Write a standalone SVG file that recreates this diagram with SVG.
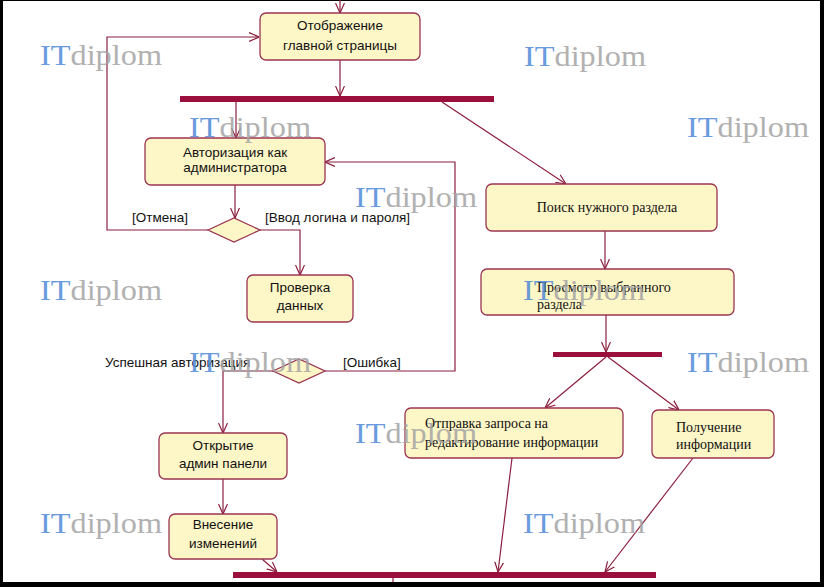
<svg xmlns="http://www.w3.org/2000/svg" width="824" height="587" viewBox="0 0 824 587">
<defs>
<marker id="arr" viewBox="0 0 10 10" refX="10" refY="5" markerWidth="10" markerHeight="10" markerUnits="userSpaceOnUse" orient="auto">
<path d="M0,0.5 L10,5 L0,9.5" fill="none" stroke="#8a1f3e" stroke-width="1.2"/>
</marker>
<style>
.box{fill:#fdf6c6;stroke:#9a3452;stroke-width:1.3}
.bar{fill:#9b0f3c}
.ln{fill:none;stroke:#8a1f3e;stroke-width:1.2}
.sans{font-family:"Liberation Sans",Arial,sans-serif;font-size:13.5px;fill:#111}
.serif{font-family:"Liberation Serif","Times New Roman",serif;font-size:14px;fill:#111}
.c{text-anchor:middle}
.wm{font-family:"Liberation Serif","Times New Roman",serif;font-size:29px}
.wi{fill:#4f8ad8}
.wd{fill:#a4a4a4}
</style>
</defs>
<rect x="0" y="0" width="824" height="587" fill="#000"/>
<rect x="3" y="1" width="817" height="581" fill="#fff"/>

<g id="connectors">
<path class="ln" d="M340,0 V13" marker-end="url(#arr)"/>
<path class="ln" d="M340,60 V96" marker-end="url(#arr)"/>
<path class="ln" d="M236,102 V138" marker-end="url(#arr)"/>
<path class="ln" d="M442,102 L566,184" marker-end="url(#arr)"/>
<path class="ln" d="M235,185 V218" marker-end="url(#arr)"/>
<path class="ln" d="M208,230 H107 V37 H259" marker-end="url(#arr)"/>
<path class="ln" d="M260,230 H300 V275" marker-end="url(#arr)"/>
<path class="ln" d="M325,371 H455 V162 H325" marker-end="url(#arr)"/>
<path class="ln" d="M273,371 H223 V433" marker-end="url(#arr)"/>
<path class="ln" d="M223,479 V514" marker-end="url(#arr)"/>
<path class="ln" d="M262,559 L277,572" marker-end="url(#arr)"/>
<path class="ln" d="M605,231 V269" marker-end="url(#arr)"/>
<path class="ln" d="M606,315 V352" marker-end="url(#arr)"/>
<path class="ln" d="M606,357 L545,408" marker-end="url(#arr)"/>
<path class="ln" d="M608,357 L679,410" marker-end="url(#arr)"/>
<path class="ln" d="M512,458 L498,572" marker-end="url(#arr)"/>
<path class="ln" d="M693,458 L605,572" marker-end="url(#arr)"/>
<path class="ln" d="M393,578 V582"/>
</g>

<g id="bar1"><rect class="bar" x="180" y="96" width="314" height="6"/></g>
<g id="bar2"><rect class="bar" x="553" y="352" width="109" height="5"/></g>
<g id="bar3"><rect class="bar" x="233" y="572" width="423" height="6"/></g>

<g id="n-main">
<rect class="box" x="260" y="13" width="160" height="47" rx="6"/>
<text class="sans c" x="340" y="30">Отображение</text>
<text class="sans c" x="340" y="50">главной страницы</text>
</g>
<g id="n-auth">
<rect class="box" x="145" y="138" width="180" height="47" rx="6"/>
<text class="sans c" x="235" y="157">Авторизация как</text>
<text class="sans c" x="235" y="172">администратора</text>
</g>
<g id="d-1">
<polygon class="box" points="208,230 234,218 260,230 234,242"/>
</g>
<g id="lbl-cancel"><text class="sans" x="132" y="222">[Отмена]</text></g>
<g id="lbl-login"><text class="sans" x="265" y="222">[Ввод логина и пароля]</text></g>
<g id="n-check">
<rect class="box" x="247" y="275" width="106" height="47" rx="6"/>
<text class="sans c" x="300" y="292">Проверка</text>
<text class="sans c" x="300" y="310">данных</text>
</g>
<g id="d-2">
<polygon class="box" points="273,371 299,359 325,371 299,383"/>
</g>
<g id="lbl-ok"><text class="sans" x="105" y="367">Успешная авторизация</text></g>
<g id="lbl-err"><text class="sans" x="343" y="367">[Ошибка]</text></g>
<g id="n-open">
<rect class="box" x="159" y="433" width="128" height="46" rx="6"/>
<text class="sans c" x="223" y="450">Открытие</text>
<text class="sans c" x="223" y="468">админ панели</text>
</g>
<g id="n-edit">
<rect class="box" x="169" y="514" width="108" height="45" rx="6"/>
<text class="sans c" x="223" y="529">Внесение</text>
<text class="sans c" x="223" y="548">изменений</text>
</g>
<g id="n-search">
<rect class="box" x="486" y="184" width="231" height="47" rx="6"/>
<text class="serif c" x="607" y="212">Поиск нужного раздела</text>
</g>
<g id="n-view">
<rect class="box" x="481" y="269" width="253" height="46" rx="6"/>
<text class="serif" x="537" y="292">Просмотр выбранного</text>
<text class="serif" x="537" y="309">раздела</text>
</g>
<g id="n-send">
<rect class="box" x="405" y="408" width="218" height="50" rx="6"/>
<text class="serif" x="425" y="428">Отправка запроса на</text>
<text class="serif" x="425" y="447">редактирование информации</text>
</g>
<g id="n-get">
<rect class="box" x="652" y="410" width="122" height="48" rx="6"/>
<text class="serif" x="676" y="432">Получение</text>
<text class="serif" x="676" y="449">информации</text>
</g>

<g id="watermarks" opacity="0.85">
<text class="wm" x="40" y="65" textLength="122" lengthAdjust="spacingAndGlyphs"><tspan class="wi">IT</tspan><tspan class="wd">diplom</tspan></text>
<text class="wm" x="524" y="66" textLength="122" lengthAdjust="spacingAndGlyphs"><tspan class="wi">IT</tspan><tspan class="wd">diplom</tspan></text>
<text class="wm" x="189" y="137" textLength="122" lengthAdjust="spacingAndGlyphs"><tspan class="wi">IT</tspan><tspan class="wd">diplom</tspan></text>
<text class="wm" x="687" y="137" textLength="122" lengthAdjust="spacingAndGlyphs"><tspan class="wi">IT</tspan><tspan class="wd">diplom</tspan></text>
<text class="wm" x="355" y="207" textLength="122" lengthAdjust="spacingAndGlyphs"><tspan class="wi">IT</tspan><tspan class="wd">diplom</tspan></text>
<text class="wm" x="40" y="300" textLength="122" lengthAdjust="spacingAndGlyphs"><tspan class="wi">IT</tspan><tspan class="wd">diplom</tspan></text>
<text class="wm" x="523" y="300" textLength="122" lengthAdjust="spacingAndGlyphs"><tspan class="wi">IT</tspan><tspan class="wd">diplom</tspan></text>
<text class="wm" x="189" y="372" textLength="122" lengthAdjust="spacingAndGlyphs"><tspan class="wi">IT</tspan><tspan class="wd">diplom</tspan></text>
<text class="wm" x="687" y="372" textLength="122" lengthAdjust="spacingAndGlyphs"><tspan class="wi">IT</tspan><tspan class="wd">diplom</tspan></text>
<text class="wm" x="355" y="443" textLength="122" lengthAdjust="spacingAndGlyphs"><tspan class="wi">IT</tspan><tspan class="wd">diplom</tspan></text>
<text class="wm" x="40" y="533" textLength="122" lengthAdjust="spacingAndGlyphs"><tspan class="wi">IT</tspan><tspan class="wd">diplom</tspan></text>
<text class="wm" x="523" y="533" textLength="122" lengthAdjust="spacingAndGlyphs"><tspan class="wi">IT</tspan><tspan class="wd">diplom</tspan></text>
</g>
</svg>
